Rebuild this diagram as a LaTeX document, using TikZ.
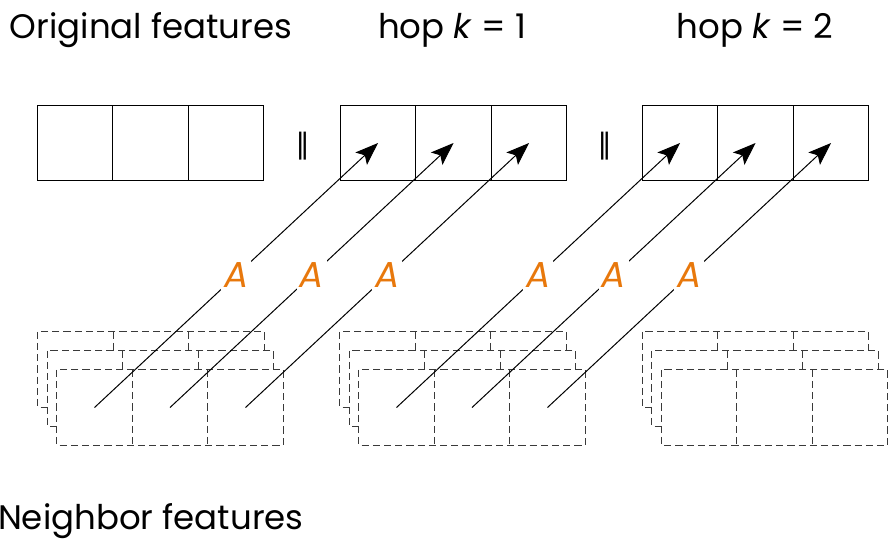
\documentclass[tikz,border=0pt]{standalone}
\usepackage{fontspec}
\setmainfont{Poppins}
\newfontfamily\barfont{DejaVu Sans}
\usetikzlibrary{
arrows.meta,
positioning
}
\definecolor{HopOrange}{HTML}{E8780C}
\definecolor{HopDash}{HTML}{3A3A3A}
\tikzset{
featcell/.style={draw=black, line width=0.5pt, minimum size=37.75pt, inner sep=0pt, outer sep=0pt},
nbrcell/.style={minimum size=37.75pt, inner sep=0pt, outer sep=0pt},
nbrline/.style={draw=HopDash, line width=0.5pt, dash pattern=on 3.6pt off 2pt},
hoparrow/.style={-{Stealth[length=11.5pt, width=8.5pt, inset=2.5pt]}, line width=0.5pt, draw=black},
hoplabel/.style={fill=white, text=HopOrange, inner sep=1.5pt, font=\fontsize{18}{21}\selectfont\itshape},
titletext/.style={anchor=base, font=\fontsize{17}{20}\selectfont},
concat/.style={font=\barfont\fontsize{14}{16}\selectfont}
}

\begin{document}
\begin{tikzpicture}[x=0.5pt, y=-0.5pt]
\useasboundingbox (0,0) rectangle (888,538);

% top row: original features and the two hops
\node[featcell] (o1) at (75,143) {};
\node[featcell, right=0pt of o1] (o2) {};
\node[featcell, right=0pt of o2] (o3) {};
\node[featcell] (ka1) at (378,143) {};
\node[featcell, right=0pt of ka1] (ka2) {};
\node[featcell, right=0pt of ka2] (ka3) {};
\node[featcell] (kb1) at (680,143) {};
\node[featcell, right=0pt of kb1] (kb2) {};
\node[featcell, right=0pt of kb2] (kb3) {};

\node[concat] (cat1) at (302.5,146) {‖};
\node[concat] (cat2) at (604.5,146) {‖};

\node[titletext] (torig) at (151,38) {Original features};
\node[titletext] (thop1) at (452,38) {hop \textit{k} = 1};
\node[titletext] (thop2) at (755,38) {hop \textit{k} = 2};
\node[titletext, anchor=base west] (tnbr) at (-9,529) {Neighbor features};

% stacked neighbor features, back layer first
\foreach \g/\fx in {na/94.5, nb/396.5, nc/699}{
  \foreach \d in {2,1,0}{
    \node[nbrcell] (\g\d1) at ({\fx-9.5*\d},{407.5-19*\d}) {};
    \node[nbrcell, right=0pt of \g\d1] (\g\d2) {};
    \node[nbrcell, right=0pt of \g\d2] (\g\d3) {};
    \draw[nbrline, fill=white] (\g\d1.north west) rectangle (\g\d3.south east);
    \draw[nbrline] (\g\d1.north east) -- (\g\d1.south east);
    \draw[nbrline] (\g\d2.north east) -- (\g\d2.south east);
  }
}

\draw[hoparrow] (na01.center) -- node[hoplabel] {A} (ka1.center);
\draw[hoparrow] (na02.center) -- node[hoplabel] {A} (ka2.center);
\draw[hoparrow] (na03.center) -- node[hoplabel] {A} (ka3.center);
\draw[hoparrow] (nb01.center) -- node[hoplabel] {A} (kb1.center);
\draw[hoparrow] (nb02.center) -- node[hoplabel] {A} (kb2.center);
\draw[hoparrow] (nb03.center) -- node[hoplabel] {A} (kb3.center);
\end{tikzpicture}
\end{document}
